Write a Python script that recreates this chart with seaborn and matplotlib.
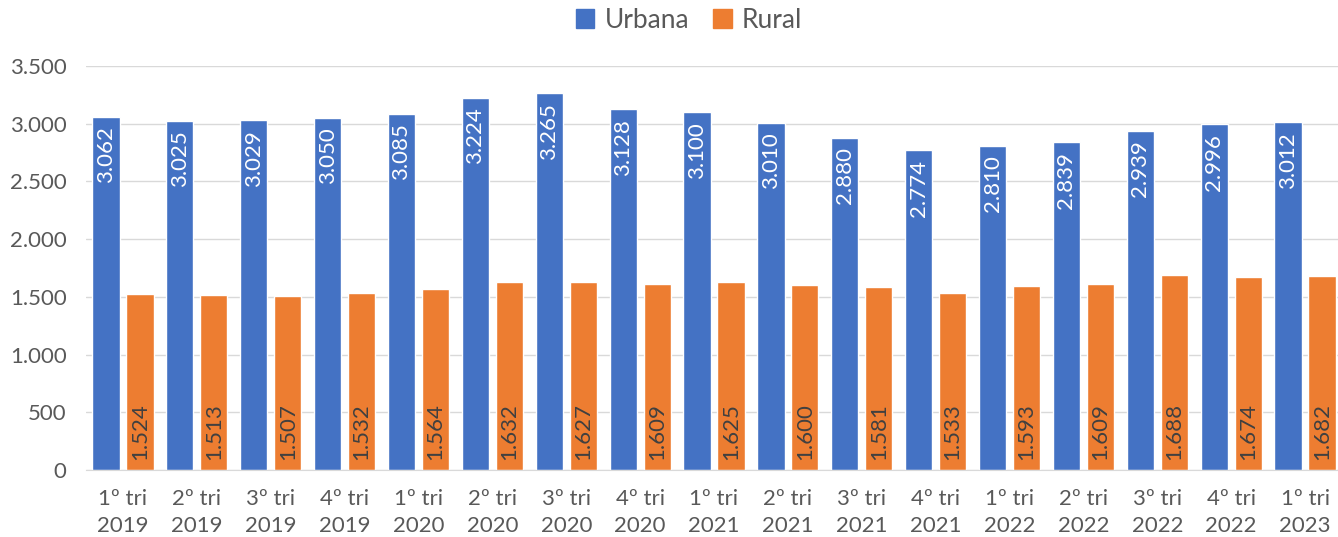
import matplotlib
matplotlib.use("Agg")
import matplotlib.pyplot as plt
from matplotlib.patches import Patch
from matplotlib.ticker import FuncFormatter
import pandas as pd
import seaborn as sns

quarters = ["1º tri\n2019", "2º tri\n2019", "3º tri\n2019", "4º tri\n2019",
            "1º tri\n2020", "2º tri\n2020", "3º tri\n2020", "4º tri\n2020",
            "1º tri\n2021", "2º tri\n2021", "3º tri\n2021", "4º tri\n2021",
            "1º tri\n2022", "2º tri\n2022", "3º tri\n2022", "4º tri\n2022",
            "1º tri\n2023"]
urbana = [3062, 3025, 3029, 3050, 3085, 3224, 3265, 3128, 3100, 3010,
          2880, 2774, 2810, 2839, 2939, 2996, 3012]
rural = [1524, 1513, 1507, 1532, 1564, 1632, 1627, 1609, 1625, 1600,
         1581, 1533, 1593, 1609, 1688, 1674, 1682]
series = ["Urbana", "Rural"]
colors = {"Urbana": "#4472C4", "Rural": "#ED7D31"}

df = pd.DataFrame({
    "tri": quarters * 2,
    "valor": urbana + rural,
    "area": ["Urbana"] * len(urbana) + ["Rural"] * len(rural),
})

def br(v):
    return f"{int(v):,}".replace(",", ".")

sns.set_style("white")
plt.rcParams["font.family"] = ["Lato", "DejaVu Sans"]

fig = plt.figure(figsize=(13.38, 5.37), dpi=100)
ax = fig.add_axes([0.0643, 0.1248, 0.9387, 0.7523])

sns.barplot(data=df, x="tri", y="valor", hue="area", order=quarters,
            hue_order=series, palette=colors, width=0.92, gap=0.2,
            legend=False, ax=ax, saturation=1)

ax.set_ylim(0, 3500)
ax.set_xlim(-0.5, len(quarters) - 0.5)
ax.set_yticks(range(0, 3501, 500))
ax.yaxis.set_major_formatter(FuncFormatter(lambda v, p: br(v)))
ax.grid(axis="y", color="#D9D9D9", linewidth=1)
ax.set_axisbelow(True)
for s in ["top", "right", "left"]:
    ax.spines[s].set_visible(False)
ax.spines["bottom"].set_color("#D9D9D9")
ax.tick_params(axis="both", length=0, labelsize=16, colors="#595959", pad=8)
ax.tick_params(axis="y", pad=14)
ax.tick_params(axis="x", pad=14)
ax.set_xlabel("")
ax.set_ylabel("")
for t in ax.get_xticklabels():
    t.set_linespacing(1.4)

cont_urb, cont_rur = ax.containers[0], ax.containers[1]
for bar in cont_urb:
    h = bar.get_height()
    ax.annotate(br(h), (bar.get_x() + bar.get_width() / 2, h),
                xytext=(0, -7), textcoords="offset points", rotation=90,
                ha="center", va="top", color="white", fontsize=16)
for bar in cont_rur:
    h = bar.get_height()
    ax.annotate(br(h), (bar.get_x() + bar.get_width() / 2, 0),
                xytext=(0, 7), textcoords="offset points", rotation=90,
                ha="center", va="bottom", color="#404040", fontsize=16)

handles = [Patch(color=colors[s]) for s in series]
fig.legend(handles, series, loc="center", bbox_to_anchor=(0.515, 0.962),
           ncol=2, frameon=False, fontsize=19, labelcolor="#595959",
           handlelength=0.7, handleheight=0.7, handletextpad=0.4,
           columnspacing=0.9)

fig.savefig("out.png", dpi=100)
